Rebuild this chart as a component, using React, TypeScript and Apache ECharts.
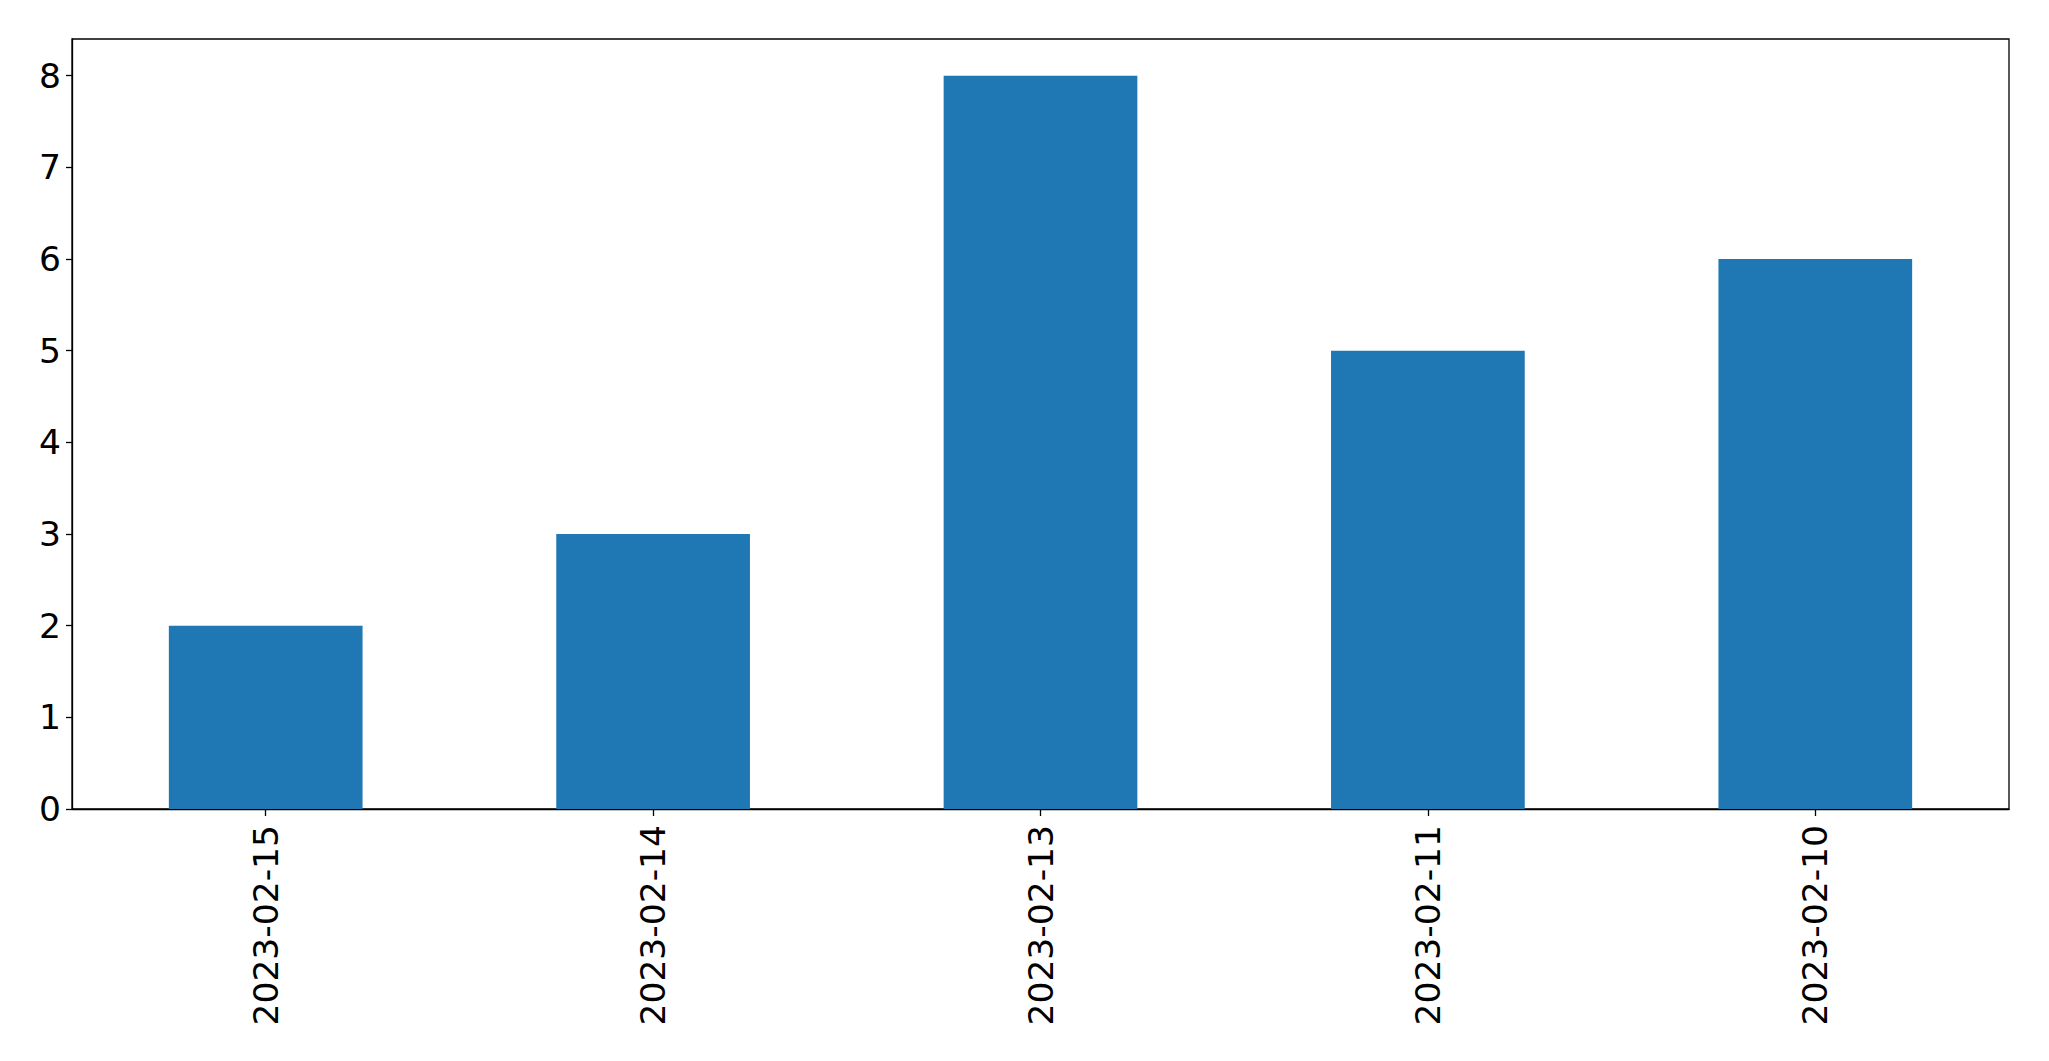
import React, { useEffect, useRef } from "react";
import * as echarts from "echarts";

const categories = ["2023-02-15", "2023-02-14", "2023-02-13", "2023-02-11", "2023-02-10"];
const values = [2, 3, 8, 5, 6];
const yTicks = [0, 1, 2, 3, 4, 5, 6, 7, 8];

export default function App() {
  const ref = useRef<HTMLDivElement>(null);
  useEffect(() => {
    document.body.style.margin = "0";
    const chart = echarts.init(ref.current!, null, { renderer: "svg" });
    const font = "DejaVu Sans";
    chart.setOption({
      animation: false,
      backgroundColor: "#ffffff",
      grid: {
        left: 72,
        top: 39,
        right: 40,
        bottom: 252,
        show: true,
        borderColor: "#000000",
        borderWidth: 1.3,
        backgroundColor: "transparent",
      },
      xAxis: {
        type: "category",
        data: categories,
        boundaryGap: true,
        axisLine: { show: true, lineStyle: { color: "#000000", width: 1.3 } },
        axisTick: { show: true, alignWithLabel: true, length: 7, lineStyle: { color: "#000000", width: 1.3 } },
        axisLabel: {
          rotate: 90,
          interval: 0,
          margin: 16,
          color: "#000000",
          fontFamily: font,
          fontSize: 34.5,
        },
        splitLine: { show: false },
      },
      yAxis: {
        type: "value",
        min: 0,
        max: 8.4,
        axisLine: { show: true, lineStyle: { color: "#000000", width: 1.3 } },
        axisTick: {
          show: true,
          length: 6,
          customValues: yTicks,
          lineStyle: { color: "#000000", width: 1.3 },
        },
        axisLabel: {
          customValues: yTicks,
          margin: 11,
          color: "#000000",
          fontFamily: font,
          fontSize: 34.5,
        },
        splitLine: { show: false },
      },
      series: [
        {
          type: "bar",
          data: values,
          barWidth: "50%",
          itemStyle: { color: "#1f77b4" },
        },
      ],
    });
    return () => chart.dispose();
  }, []);
  return <div ref={ref} style={{ width: 2049, height: 1061 }} />;
}
